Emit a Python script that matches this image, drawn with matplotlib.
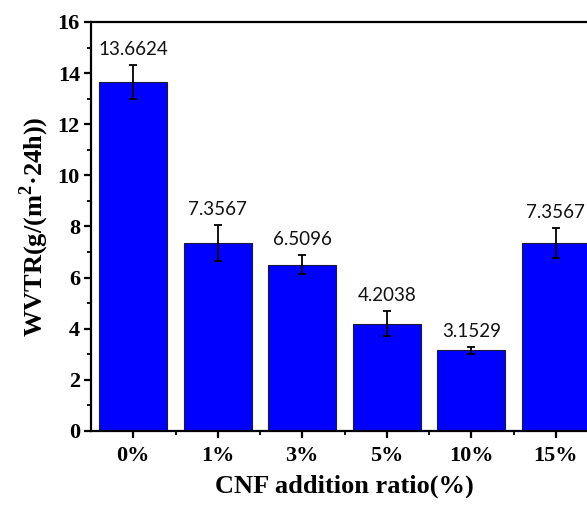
import matplotlib
matplotlib.use("Agg")
import matplotlib.pyplot as plt
from matplotlib.ticker import MultipleLocator, FixedLocator
import numpy as np

# WVTR of films with different CNF addition ratios
categories = ["0%", "1%", "3%", "5%", "10%", "15%"]
wvtr = [13.6624, 7.3567, 6.5096, 4.2038, 3.1529, 7.3567]
wvtr_err = [0.67, 0.71, 0.36, 0.48, 0.14, 0.60]
value_labels = ["13.6624", "7.3567", "6.5096", "4.2038", "3.1529", "7.3567"]

plt.rcParams["mathtext.fontset"] = "custom"
plt.rcParams["mathtext.rm"] = "Liberation Serif:bold"
plt.rcParams["mathtext.bf"] = "Liberation Serif:bold"

fig = plt.figure(figsize=(5.87, 5.05), dpi=100)
ax = fig.add_axes([91 / 587, 74 / 505, 507 / 587, 409 / 505])

x = np.arange(len(categories))
ax.bar(x, wvtr, width=0.8, color="#0000FF", edgecolor="#1a1a3a", linewidth=0.8, zorder=2)
ax.errorbar(x, wvtr, yerr=wvtr_err, fmt="none", ecolor="black",
            elinewidth=1.3, capsize=3, capthick=1.3, zorder=3)

for xi, v, e, lab in zip(x, wvtr, wvtr_err, value_labels):
    ax.annotate(lab, (xi, v + e), xytext=(0, 5), textcoords="offset points",
                ha="center", va="bottom", fontsize=13.5, family="Lato", color="#111111")

ax.set_xlim(-0.5, 5.5)
ax.set_ylim(0, 16)
ax.set_xticks(x)
ax.set_xticklabels(categories)
ax.xaxis.set_minor_locator(FixedLocator(x[:-1] + 0.5))
ax.yaxis.set_major_locator(MultipleLocator(2))
ax.yaxis.set_minor_locator(MultipleLocator(1))

for s in ax.spines.values():
    s.set_linewidth(1.6)

ax.tick_params(axis="both", which="major", direction="out", length=5, width=1.6,
               labelsize=16, top=False, right=False)
ax.tick_params(axis="both", which="minor", direction="out", length=3, width=1.3,
               top=False, right=False)
ax.tick_params(axis="x", which="major", pad=6)
ax.tick_params(axis="y", which="major", pad=3)
for t in ax.get_xticklabels() + ax.get_yticklabels():
    t.set_fontfamily("Liberation Serif")
    t.set_fontweight("bold")

ax.set_xlabel("CNF addition ratio(%)", fontsize=19, family="Liberation Serif",
              fontweight="bold", labelpad=6)
ax.set_ylabel(r"WVTR(g/(m$^{\mathbf{2}}$·24h))", fontsize=19, family="Liberation Serif",
              fontweight="bold", labelpad=5)

fig.savefig("out.png", dpi=100)
